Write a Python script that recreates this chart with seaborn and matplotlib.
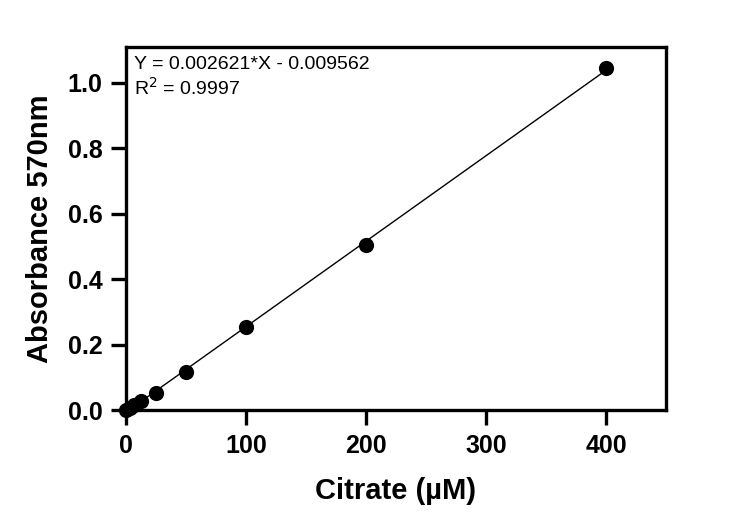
import numpy as np
import pandas as pd
import matplotlib
matplotlib.use("Agg")
import matplotlib.pyplot as plt
import seaborn as sns

# standard curve: citrate concentration vs absorbance
citrate_um = [0, 3.125, 6.25, 12.5, 25, 50, 100, 200, 400]
absorbance = [0.0, 0.008, 0.015, 0.027, 0.052, 0.118, 0.255, 0.505, 1.045]
equation = "Y = 0.002621*X - 0.009562"
r_squared = "R$^2$ = 0.9997"

df = pd.DataFrame({"citrate": citrate_um, "abs570": absorbance})

sns.set_style("ticks")
plt.rcParams["font.family"] = ["Liberation Sans", "DejaVu Sans"]
plt.rcParams["text.color"] = "black"
plt.rcParams["axes.labelcolor"] = "black"
plt.rcParams["xtick.color"] = "black"
plt.rcParams["ytick.color"] = "black"

fig = plt.figure(figsize=(7.5, 5.32), dpi=100)
ax = fig.add_axes([0.168, 0.229, 0.72, 0.683])

sns.regplot(data=df, x="citrate", y="abs570", ax=ax, ci=None, truncate=True,
            scatter_kws={"s": 120, "color": "black", "alpha": 1, "linewidths": 0,
                         "zorder": 3, "clip_on": False},
            line_kws={"color": "black", "lw": 1})

ax.set_xlim(0, 450)
ax.set_ylim(0, 1.11)
ax.set_xticks([0, 100, 200, 300, 400])
ax.set_yticks([0.0, 0.2, 0.4, 0.6, 0.8, 1.0])
ax.yaxis.set_major_formatter(matplotlib.ticker.FormatStrFormatter("%.1f"))

for sp in ax.spines.values():
    sp.set_linewidth(2.4)
    sp.set_color("black")
ax.tick_params(direction="out", length=11, width=2.4, labelsize=18, pad=6)
for lab in ax.get_xticklabels() + ax.get_yticklabels():
    lab.set_fontweight("bold")

ax.set_xlabel("Citrate (µM)", fontsize=21, fontweight="bold", labelpad=14)
ax.set_ylabel("Absorbance 570nm", fontsize=21, fontweight="bold", labelpad=10)

ax.text(0.015, 0.975, equation + "\n" + r_squared, transform=ax.transAxes,
        ha="left", va="top", fontsize=14, linespacing=1.2)

fig.savefig("out.png", dpi=100)
